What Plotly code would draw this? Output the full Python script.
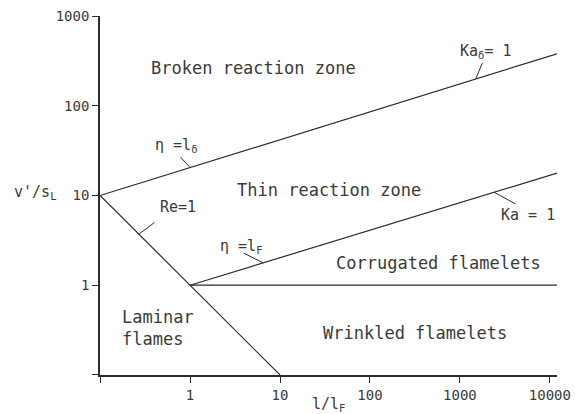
import numpy as np
import plotly.graph_objects as go

# ---- data ----
re1_x = [0.1, 10]          # Re = 1
re1_y = [10, 0.1]
kad_x = [0.1, 12000]       # Ka_delta = 1  (eta = l_delta)
kad_y = [10, 380]
ka_x = [1, 12000]          # Ka = 1  (eta = l_F)
ka_y = [1, 17.8]
flat_x = [1, 12000]        # v'/sL = 1
flat_y = [1, 1]

x_ticks = [1, 10, 100, 1000, 10000]
x_ticktext = ["1", "10", "100", "1000", "10000"]
y_ticks = [1, 10, 100, 1000]
y_ticktext = ["1", "10", "100", "1000"]
origin_tick = [0.1]

INK = "#2b2b2b"
TXT = "#3a3a3a"
FONT = "DejaVu Sans Mono"

def on_line(xs, ys, x):
    lx, ly = np.log10(xs), np.log10(ys)
    return float(np.log10(x)), float(np.interp(np.log10(x), lx, ly))

fig = go.Figure()
for xs, ys in [(re1_x, re1_y), (kad_x, kad_y), (ka_x, ka_y), (flat_x, flat_y)]:
    fig.add_trace(go.Scatter(x=xs, y=ys, mode="lines",
                             line=dict(color=INK, width=1.2),
                             showlegend=False, hoverinfo="skip"))

ann = []
def lab(text, x, y, size=17, xanchor="center", align="center"):
    ann.append(dict(text=text, x=x, y=y, xref="x", yref="y", showarrow=False,
                    xanchor=xanchor, yanchor="middle", align=align,
                    font=dict(family=FONT, size=size, color=TXT)))

# region labels (log10 positions)
lab("Broken reaction zone", 0.70, 2.42)
lab("Thin reaction zone", 1.55, 1.06)
lab("Corrugated flamelets", 2.76, 0.25)
lab("Wrinkled flamelets", 2.50, -0.53)
lab("Laminar<br>flames", -0.78, -0.476, xanchor="left", align="left")

# line labels
lab("η =l<sub>δ</sub>", -0.155, 1.563, size=15)
lab("Re=1", -0.13, 0.872, size=15)
lab("η =l<sub>F</sub>", 0.57, 0.437, size=15)
lab("Ka<sub>δ</sub>= 1", 3.28, 2.61, size=15)
lab("Ka = 1", 3.76, 0.783, size=15)

# leader lines from the labels to the curves
def leader(xs, ys, x, ax, ay):
    hx, hy = on_line(xs, ys, x)
    ann.append(dict(text=" ", x=hx, y=hy, xref="x", yref="y", ax=ax, ay=ay,
                    showarrow=True, arrowhead=0, arrowwidth=1, arrowcolor=INK,
                    standoff=0, borderpad=0, font=dict(size=1)))

leader(kad_x, kad_y, 1.0, -10, -11)
leader(re1_x, re1_y, 0.27, 16, -12)
leader(ka_x, ka_y, 6.5, -20, -10)
leader(kad_x, kad_y, 1500, 7, -17)
leader(ka_x, ka_y, 2400, 22, 12)

# axis titles
ann.append(dict(text="v'/s<sub>L</sub>", x=-0.142, y=0.507, xref="paper", yref="paper",
                showarrow=False, xanchor="center", yanchor="middle",
                font=dict(family=FONT, size=15, color=TXT)))
ann.append(dict(text="l/l<sub>F</sub>", x=0.501, y=-0.083, xref="paper", yref="paper",
                showarrow=False, xanchor="center", yanchor="middle",
                font=dict(family=FONT, size=15, color=TXT)))

axis_common = dict(type="log", ticks="outside", ticklen=6, tickwidth=1.3,
                   tickcolor=INK, showline=True, linecolor=INK, linewidth=1.6,
                   showgrid=False, zeroline=False, automargin=False,
                   tickfont=dict(family=FONT, size=14, color=TXT),
                   minor=dict(tickvals=origin_tick, ticks="outside", ticklen=6,
                              tickwidth=1.3, tickcolor=INK, showgrid=False))

fig.update_layout(
    width=575, height=414,
    margin=dict(l=100, r=18, t=16, b=39),
    paper_bgcolor="white", plot_bgcolor="white",
    annotations=ann,
    xaxis=dict(range=[-1.001, np.log10(12000)], tickvals=x_ticks,
               ticktext=x_ticktext, **axis_common),
    yaxis=dict(range=[-1.001, 3.001], tickvals=y_ticks,
               ticktext=y_ticktext, **axis_common),
)

fig.write_html("out.html")
